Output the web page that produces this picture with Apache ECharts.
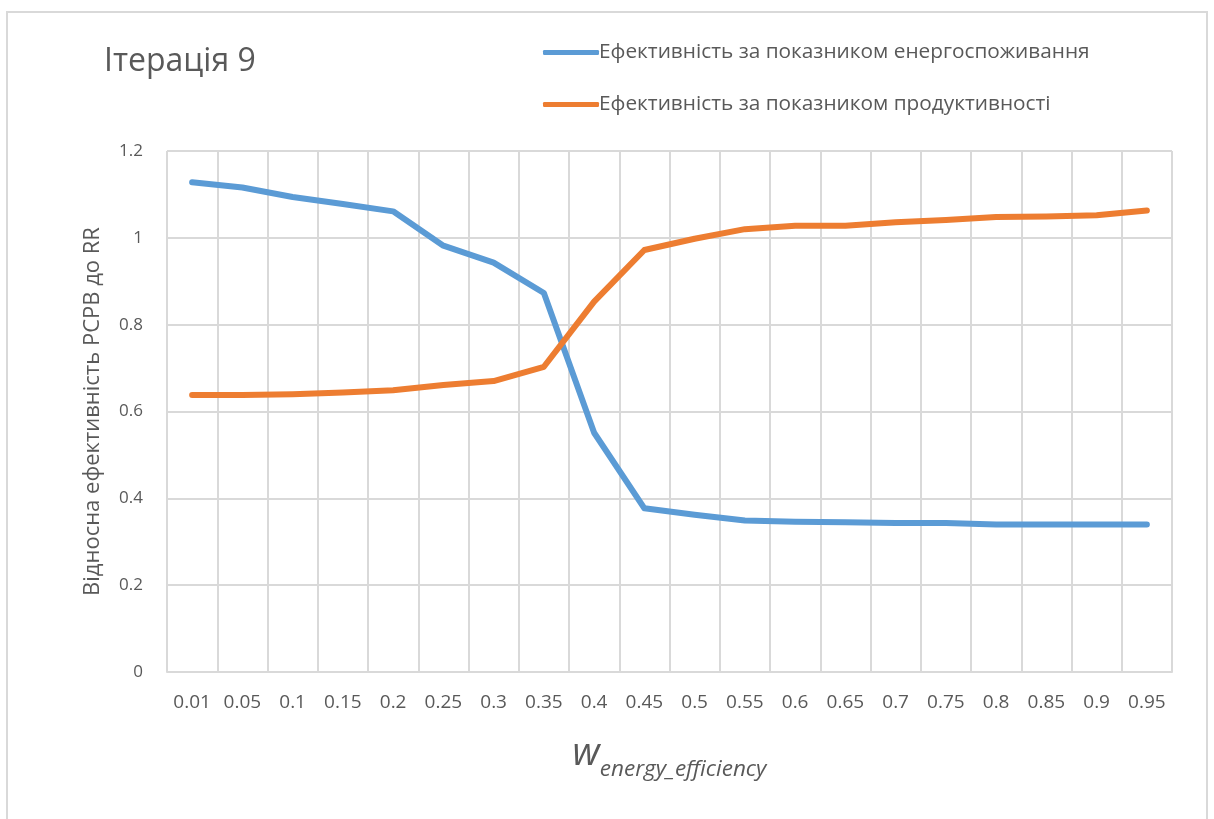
<!DOCTYPE html>
<html>
<head>
<meta charset="utf-8">
<script src="https://cdn.jsdelivr.net/npm/echarts@6/dist/echarts.min.js"></script>
<style>
  html, body { margin: 0; padding: 0; background: #fff; }
  #chart { width: 1214px; height: 819px; }
</style>
</head>
<body>
<div id="chart"></div>
<script>
// Weight of the energy-efficiency criterion
const weights = ['0.01', '0.05', '0.1', '0.15', '0.2', '0.25', '0.3', '0.35', '0.4', '0.45',
                 '0.5', '0.55', '0.6', '0.65', '0.7', '0.75', '0.8', '0.85', '0.9', '0.95'];

// Relative efficiency by energy consumption
const energyEff = [1.128, 1.116, 1.094, 1.078, 1.061, 0.982, 0.943, 0.873, 0.551, 0.377,
                   0.362, 0.349, 0.346, 0.345, 0.343, 0.343, 0.340, 0.340, 0.340, 0.340];

// Relative efficiency by productivity
const prodEff = [0.638, 0.638, 0.640, 0.644, 0.649, 0.661, 0.670, 0.703, 0.853, 0.972,
                 0.998, 1.020, 1.028, 1.028, 1.036, 1.041, 1.048, 1.049, 1.052, 1.063];

const seriesNames = ['Ефективність за показником енергоспоживання',
                     'Ефективність за показником продуктивності'];

const FONT = '"Open Sans", "Noto Sans", sans-serif';
const GRAY = '#595959';
const GRID = '#d9d9d9';

const chart = echarts.init(document.getElementById('chart'), null, { renderer: 'canvas' });

chart.setOption({
  animation: false,
  backgroundColor: '#fff',
  title: {
    text: 'Ітерація 9',
    left: 99,
    top: 41,
    textStyle: { fontFamily: FONT, fontSize: 32, fontWeight: 'normal', color: GRAY }
  },
  legend: {
    orient: 'vertical',
    left: 538,
    top: 37,
    itemGap: 31,
    itemWidth: 56,
    itemHeight: 5,
    icon: 'roundRect',
    itemStyle: { borderWidth: 0 },
    textStyle: { fontFamily: FONT, fontSize: 20.8, color: GRAY, padding: [0, 0, 0, -5] },
    data: seriesNames
  },
  grid: { left: 167, right: 42, top: 151, bottom: 147, containLabel: false },
  xAxis: {
    type: 'category',
    data: weights,
    boundaryGap: true,
    axisLine: { show: true, lineStyle: { color: GRID, width: 2 } },
    axisTick: { show: false },
    splitLine: { show: true, lineStyle: { color: GRID, width: 2 } },
    axisLabel: { fontFamily: FONT, fontSize: 19, color: GRAY, margin: 21, interval: 0 },
    name: '{w|w}{sub|energy_efficiency}',
    nameLocation: 'middle',
    nameGap: 61,
    nameTextStyle: {
      rich: {
        w: { fontFamily: FONT, fontStyle: 'italic', fontSize: 38, color: GRAY, verticalAlign: 'bottom', lineHeight: 40 },
        sub: { fontFamily: FONT, fontStyle: 'italic', fontSize: 22.5, color: GRAY, verticalAlign: 'bottom', lineHeight: 30, padding: [0, 0, -8, 0] }
      }
    }
  },
  yAxis: {
    type: 'value',
    min: 0,
    max: 1.2,
    interval: 0.2,
    axisLine: { show: false },
    axisTick: { show: false },
    splitLine: { show: true, lineStyle: { color: GRID, width: 2 } },
    axisLabel: {
      fontFamily: FONT, fontSize: 17, color: GRAY, margin: 24,
      formatter: v => String(Math.round(v * 10) / 10)
    },
    name: 'Відносна ефективність PCPB до RR',
    nameLocation: 'middle',
    nameGap: 63,
    nameRotate: 90,
    nameTextStyle: { fontFamily: FONT, fontSize: 22, color: GRAY }
  },
  series: [
    {
      name: seriesNames[0],
      type: 'line',
      data: energyEff,
      showSymbol: false,
      symbol: 'none',
      color: '#5B9BD5',
      lineStyle: { width: 6, color: '#5B9BD5', cap: 'round', join: 'round' }
    },
    {
      name: seriesNames[1],
      type: 'line',
      data: prodEff,
      showSymbol: false,
      symbol: 'none',
      color: '#ED7D31',
      lineStyle: { width: 6, color: '#ED7D31', cap: 'round', join: 'round' }
    }
  ],
  graphic: [
    {
      // chart-area frame (open at the bottom)
      type: 'polyline',
      silent: true,
      shape: { points: [[7, 830], [7, 12], [1207, 12], [1207, 830]] },
      style: { stroke: GRID, lineWidth: 2, fill: null }
    }
  ]
});
</script>
</body>
</html>
